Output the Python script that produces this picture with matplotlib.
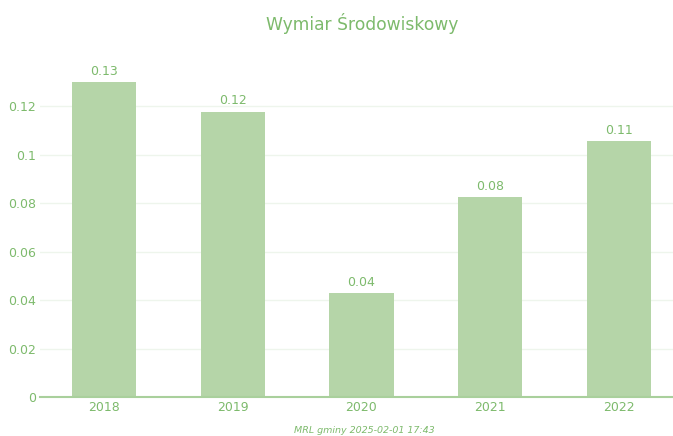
import matplotlib
matplotlib.use("Agg")
import matplotlib.pyplot as plt
from matplotlib.ticker import FixedLocator, FixedFormatter

# Environmental dimension index by year
years = ["2018", "2019", "2020", "2021", "2022"]
values = [0.130, 0.1177, 0.0429, 0.0824, 0.1054]

y_ticks = [0, 0.02, 0.04, 0.06, 0.08, 0.10, 0.12]
y_tick_labels = ["0", "0.02", "0.04", "0.06", "0.08", "0.1", "0.12"]

title_text = "Wymiar Środowiskowy"
footer_text = "MRL gminy 2025-02-01 17:43"

text_color = "#7dba6c"
bar_color = "#b5d5a8"
grid_color = "#eef5ec"
axis_color = "#a9d09c"

fig = plt.figure(figsize=(6.73, 4.36), dpi=100)
ax = fig.add_axes([40 / 673, 39 / 436, 643 / 673, 332.2 / 436])

x = list(range(len(years)))
ax.bar(x, values, width=0.5, color=bar_color, zorder=2)

for xi, v in zip(x, values):
    ax.annotate(f"{v:.2f}", (xi, v), xytext=(0, 3), textcoords="offset points",
                ha="center", va="bottom", fontsize=9, color=text_color)

ax.set_xlim(-0.5, len(years) - 0.5)
ax.set_ylim(0, 0.137)
ax.set_xticks(x)
ax.set_xticklabels(years)
ax.yaxis.set_major_locator(FixedLocator(y_ticks))
ax.yaxis.set_major_formatter(FixedFormatter(y_tick_labels))
ax.tick_params(axis="both", length=0, labelsize=9, labelcolor=text_color)
ax.tick_params(axis="y", pad=3)
ax.tick_params(axis="x", pad=3)

ax.grid(axis="y", color=grid_color, linewidth=1, zorder=0)
ax.set_axisbelow(True)
for side in ["top", "right", "left"]:
    ax.spines[side].set_visible(False)
ax.spines["bottom"].set_color(axis_color)
ax.spines["bottom"].set_linewidth(1.5)
ax.spines["bottom"].set_zorder(3)

fig.text(362 / 673, 1 - 24 / 436, title_text, ha="center", va="center",
         fontsize=12.3, color=text_color)
fig.text(364 / 673, 1 - 430 / 436, footer_text, ha="center", va="center",
         fontsize=6.8, style="italic", color=text_color)

fig.savefig("out.png", dpi=100)
